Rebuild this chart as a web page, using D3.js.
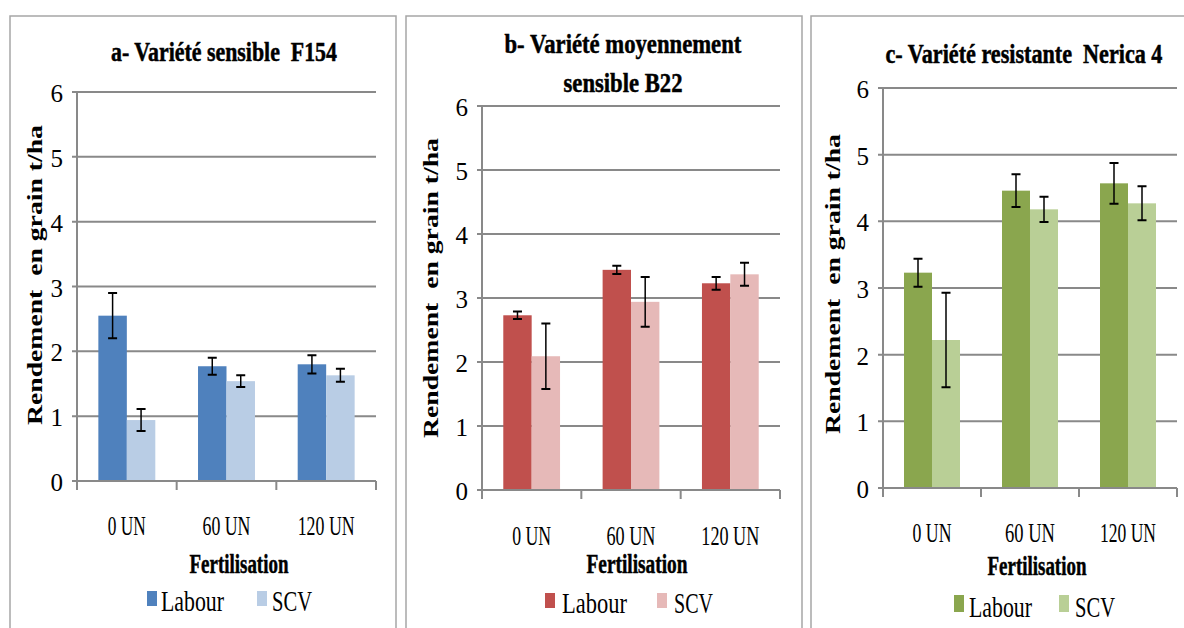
<!DOCTYPE html>
<html>
<head>
<meta charset="utf-8">
<script src="https://cdn.jsdelivr.net/npm/d3@7"></script>
<style>
  body { margin: 0; background: #fff; }
  svg { display: block; }
  text { fill: #000; white-space: pre; }
</style>
</head>
<body>
<div id="chart"></div>
<script>
// data
const categories = ["0 UN", "60 UN", "120 UN"];
const series = ["Labour", "SCV"];
const yTicks = [0, 1, 2, 3, 4, 5, 6];

const labourA = [2.55, 1.77, 1.80];
const labourAErr = [0.35, 0.13, 0.14];
const scvA = [0.94, 1.54, 1.63];
const scvAErr = [0.17, 0.09, 0.10];

const labourB = [2.73, 3.44, 3.23];
const labourBErr = [0.06, 0.065, 0.10];
const scvB = [2.09, 2.94, 3.37];
const scvBErr = [0.51, 0.39, 0.18];

const labourC = [3.23, 4.46, 4.57];
const labourCErr = [0.21, 0.245, 0.305];
const scvC = [2.22, 4.18, 4.27];
const scvCErr = [0.71, 0.19, 0.255];

const titleA = ["a- Variété sensible  F154"];
const titleB = ["b- Variété moyennement", "sensible B22"];
const titleC = ["c- Variété resistante  Nerica 4"];
const yTitle = "Rendement  en grain t/ha";
const xTitle = "Fertilisation";

const FONT = "Liberation Serif";

const W = 1184, H = 628;
const svg = d3.select("#chart").append("svg")
    .attr("width", W)
    .attr("height", H);

const panels = [
  {
    frame: [10, 396], plot: [77, 376], y0: 481, y6: 92,
    colors: ["#4f81bd", "#b9cde5"],
    labour: labourA, labourErr: labourAErr, scv: scvA, scvErr: scvAErr,
    title: titleA, titleX: 224, titleY: [61], titleW: [226], titleSize: 27,
    yTitleX: 42, yTitleY: 275,
    catY: 535, catW: [38, 48, 57],
    xTitleX: 239, xTitleY: 573, xTitleW: 99,
    leg: { y: 591, h: 15, textY: 611, sw1: 147, t1: 161, t1w: 63, sw2: 257, t2: 272, t2w: 40 }
  },
  {
    frame: [406, 802], plot: [482, 780], y0: 490, y6: 106,
    colors: ["#c0504d", "#e6b9b8"],
    labour: labourB, labourErr: labourBErr, scv: scvB, scvErr: scvBErr,
    title: titleB, titleX: 623, titleY: [53, 92], titleW: [237, 119], titleSize: 28,
    yTitleX: 438, yTitleY: 288,
    catY: 545, catW: [39, 49, 58],
    xTitleX: 637, xTitleY: 573, xTitleW: 101,
    leg: { y: 593, h: 15, textY: 613, sw1: 545, t1: 562, t1w: 65, sw2: 657, t2: 674, t2w: 39 }
  },
  {
    frame: [811, 1200], plot: [883, 1177], y0: 488, y6: 88,
    colors: ["#8aa64e", "#b9cf96"],
    labour: labourC, labourErr: labourCErr, scv: scvC, scvErr: scvCErr,
    title: titleC, titleX: 1024, titleY: [63], titleW: [277], titleSize: 27,
    yTitleX: 840, yTitleY: 284,
    catY: 542, catW: [39, 50, 56],
    xTitleX: 1037, xTitleY: 575, xTitleW: 99,
    leg: { y: 595, h: 17, textY: 617, sw1: 954, t1: 969, t1w: 63, sw2: 1059, t2: 1075, t2w: 40 }
  }
];

// text squeezed horizontally to a measured width
function fitText(g, str, left, baseline, width, size, bold) {
  const t = g.append("text")
      .attr("font-family", FONT)
      .attr("font-size", size)
      .attr("font-weight", bold ? "bold" : "normal")
      .attr("stroke", bold ? "#000" : "none")
      .attr("stroke-width", bold ? 0.5 : 0)
      .text(str);
  const natural = t.node().getComputedTextLength();
  t.attr("transform", `translate(${left},${baseline}) scale(${width / natural},1)`);
  return t;
}

panels.forEach(p => drawPanel(p));

function drawPanel(p) {
  const g = svg.append("g");

  // frame (left, top, right; bottom runs off the picture)
  g.append("path")
      .attr("d", `M${p.frame[0]},${H + 2}V16H${p.frame[1]}V${H + 2}`)
      .attr("fill", "none")
      .attr("stroke", "#a6a6a6")
      .attr("stroke-width", 1.5);

  const x = d3.scaleBand()
      .domain(categories)
      .range(p.plot)
      .padding(0);

  const xs = d3.scaleBand()
      .domain(series)
      .range([0, x.bandwidth()])
      .paddingInner(0)
      .paddingOuter(0.75);

  const y = d3.scaleLinear()
      .domain([0, 6])
      .range([p.y0, p.y6]);

  // gridlines with small ticks on the left
  g.selectAll(".grid")
      .data(yTicks)
      .enter()
      .append("line")
      .attr("x1", p.plot[0] - 5)
      .attr("x2", p.plot[1])
      .attr("y1", d => y(d))
      .attr("y2", d => y(d))
      .attr("stroke", "#898989")
      .attr("stroke-width", 2);

  // y tick labels
  g.selectAll(".ytl")
      .data(yTicks)
      .enter()
      .append("text")
      .attr("x", p.plot[0] - 14)
      .attr("y", d => y(d) + 10)
      .attr("text-anchor", "end")
      .attr("font-family", FONT)
      .attr("font-size", 25)
      .text(d => d);

  // y axis line
  g.append("line")
      .attr("x1", p.plot[0]).attr("x2", p.plot[0])
      .attr("y1", p.y6).attr("y2", p.y0 + 9)
      .attr("stroke", "#898989")
      .attr("stroke-width", 2);

  // category separator ticks
  const edges = categories.map(c => x(c)).concat([p.plot[1]]);
  g.selectAll(".xtick")
      .data(edges)
      .enter()
      .append("line")
      .attr("x1", d => d).attr("x2", d => d)
      .attr("y1", p.y0).attr("y2", p.y0 + 9)
      .attr("stroke", "#898989")
      .attr("stroke-width", 2);

  // bars
  const rows = [];
  categories.forEach((c, i) => {
    rows.push({ cat: c, s: "Labour", v: p.labour[i], e: p.labourErr[i], color: p.colors[0] });
    rows.push({ cat: c, s: "SCV", v: p.scv[i], e: p.scvErr[i], color: p.colors[1] });
  });

  g.selectAll(".bar")
      .data(rows)
      .enter()
      .append("rect")
      .attr("x", d => x(d.cat) + xs(d.s))
      .attr("y", d => y(d.v))
      .attr("width", xs.bandwidth())
      .attr("height", d => p.y0 - y(d.v))
      .attr("fill", d => d.color);

  // zero line over bar bottoms
  g.append("line")
      .attr("x1", p.plot[0]).attr("x2", p.plot[1])
      .attr("y1", p.y0).attr("y2", p.y0)
      .attr("stroke", "#898989")
      .attr("stroke-width", 2);

  // error bars
  const eb = g.selectAll(".err")
      .data(rows)
      .enter()
      .append("g")
      .attr("transform", d => `translate(${x(d.cat) + xs(d.s) + xs.bandwidth() / 2},0)`);
  eb.append("line")
      .attr("y1", d => y(d.v + d.e))
      .attr("y2", d => y(d.v - d.e))
      .attr("stroke", "#000")
      .attr("stroke-width", 1.5);
  eb.append("path")
      .attr("d", d => `M-4.5,${y(d.v + d.e)}H4.5M-4.5,${y(d.v - d.e)}H4.5`)
      .attr("stroke", "#000")
      .attr("stroke-width", 2);

  // category labels
  categories.forEach((c, i) => {
    const cx = x(c) + x.bandwidth() / 2;
    fitText(g, c, cx - p.catW[i] / 2, p.catY, p.catW[i], 27, false);
  });

  // chart title
  p.title.forEach((t, i) => {
    fitText(g, t, p.titleX - p.titleW[i] / 2, p.titleY[i], p.titleW[i], p.titleSize, true);
  });

  // y axis title, rotated; length runs along the vertical, glyphs squeezed
  const yt = g.append("text")
      .attr("font-family", FONT)
      .attr("font-size", 25)
      .attr("font-weight", "bold")
      .text(yTitle);
  const ytLen = yt.node().getComputedTextLength();
  yt.attr("transform",
      `translate(${p.yTitleX},${p.yTitleY}) scale(0.85,1) rotate(-90) scale(${300 / ytLen},1) translate(${-ytLen / 2},0)`);

  // x axis title
  fitText(g, xTitle, p.xTitleX - p.xTitleW / 2, p.xTitleY, p.xTitleW, 28, true);

  // legend
  const L = p.leg;
  g.append("rect")
      .attr("x", L.sw1).attr("y", L.y)
      .attr("width", 10).attr("height", L.h)
      .attr("fill", p.colors[0]);
  fitText(g, series[0], L.t1, L.textY, L.t1w, 30, false);
  g.append("rect")
      .attr("x", L.sw2).attr("y", L.y)
      .attr("width", 10).attr("height", L.h)
      .attr("fill", p.colors[1]);
  fitText(g, series[1], L.t2, L.textY, L.t2w, 30, false);
}
</script>
</body>
</html>
